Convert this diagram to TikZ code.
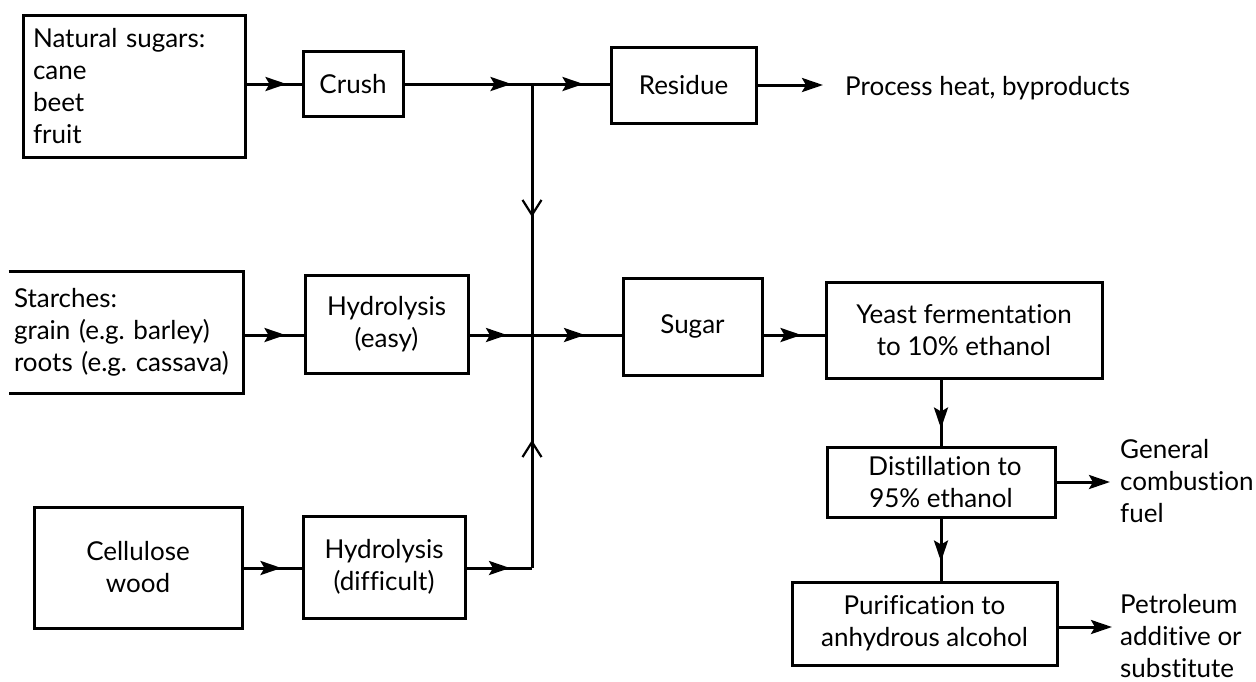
\documentclass[tikz,border=0pt]{standalone}
\usepackage{fontspec}
\setmainfont{Lato}[Ligatures=NoCommon]
\usetikzlibrary{arrows.meta,decorations.markings}
\frenchspacing
\begin{document}
\begin{tikzpicture}[x=1pt,y=-1pt,
  txt/.style={font=\fontsize{26}{32}\selectfont},
  box/.style={txt,draw,line width=3pt,align=center,inner sep=0pt},
  lbl/.style={txt,align=left,inner sep=0pt,anchor=west},
  flow/.style={line width=3pt},
  endS/.style={-{Stealth[length=21pt,width=14pt,inset=4pt]}},
  midS/.style={postaction={decorate},decoration={markings,mark=at position #1 with {\arrow{Stealth[length=21pt,width=14pt,inset=4pt]}}}},
  midV/.style={postaction={decorate},decoration={markings,mark=at position #1 with {\arrow{Straight Barb[length=15pt,width=19pt,line width=2.2pt]}}}}]
\useasboundingbox (0,0) rectangle (1256,681);

% boxes
\node[box,minimum width=222,minimum height=142,text width=202,align=left] (nat) at (134,86)
  {Natural sugars:\\cane\\beet\\fruit};
\node[box,minimum width=100,minimum height=65] (crush) at (353,84) {Crush};
\node[box,minimum width=145,minimum height=76] (res) at (683.5,85) {Residue};
\node[box,draw=none,minimum width=232,minimum height=119,text width=224,align=left] (st) at (126,332.5)
  {Starches:\\grain (e.g. barley)\\roots (e.g. cassava)};
\draw[line width=3pt] (st.north west) -- (st.north east) -- (st.south east) -- (st.south west);
\node[box,minimum width=163,minimum height=98] (hye) at (386.5,324) {Hydrolysis\\(easy)};
\node[box,minimum width=139,minimum height=97] (sugar) at (692.5,326.5) {Sugar};
\node[box,minimum width=276,minimum height=96] (yeast) at (964,330) {Yeast fermentation\\to 10\% ethanol};
\node[box,minimum width=228,minimum height=70] (dist) at (941,482) {\hspace*{8pt}Distillation to\\95\% ethanol};
\node[box,minimum width=265,minimum height=83] (pur) at (924.5,623.5) {Purification to\\anhydrous alcohol};
\node[box,minimum width=208,minimum height=121] (cell) at (138,567.5) {Cellulose\\wood};
\node[box,minimum width=162,minimum height=102] (hyd) at (384,567) {Hydrolysis\\(difficult)};

% labels
\node[lbl] (proc) at (845,88) {Process heat, byproducts};
\node[lbl] (gen) at (1120,481) {General\\combustion\\fuel};
\node[lbl] (pet) at (1120,636) {Petroleum\\additive or\\substitute};

% junctions and free ends
\coordinate (j1) at (532,84);
\coordinate (j2) at (532,335);
\coordinate (j3) at (532,568);
\coordinate (pend0) at (823,85);
\coordinate (gend) at (1110,482);
\coordinate (pend) at (1112,627);

% connectors
\draw[flow,midS=-15pt] (nat.east |- crush.west) -- (crush.west);
\draw[flow,midS=107pt] (crush.east) -- (j1);
\draw[flow,midS=-26pt] (j1) -- (res.west |- j1);
\draw[flow,endS] (res.east) -- (pend0);
\draw[flow,midS=-18pt] (st.east |- j2) -- (hye.west |- j2);
\draw[flow,midS=-25pt] (hye.east |- j2) -- (j2);
\draw[flow,midS=53pt] (j2) -- (sugar.west |- j2);
\draw[flow,midS=-23pt] (sugar.east |- j2) -- (yeast.west |- j2);
\draw[flow,midS=-17pt] (yeast.south -| dist.north) -- (dist.north);
\draw[flow,midS=-19pt] (dist.south) -- (dist.south |- pur.north);
\draw[flow,midS=-20pt] (cell.east |- j3) -- (hyd.west |- j3);
\draw[flow,midS=-22pt] (hyd.east |- j3) -- (j3);
\draw[flow,midV=-105pt] (j3) -- (j2);
\draw[flow,midV=133pt] (j1) -- (j2);
\draw[flow,endS] (dist.east) -- (gend);
\draw[flow,endS] (pur.east |- pend) -- (pend);
\end{tikzpicture}
\end{document}
